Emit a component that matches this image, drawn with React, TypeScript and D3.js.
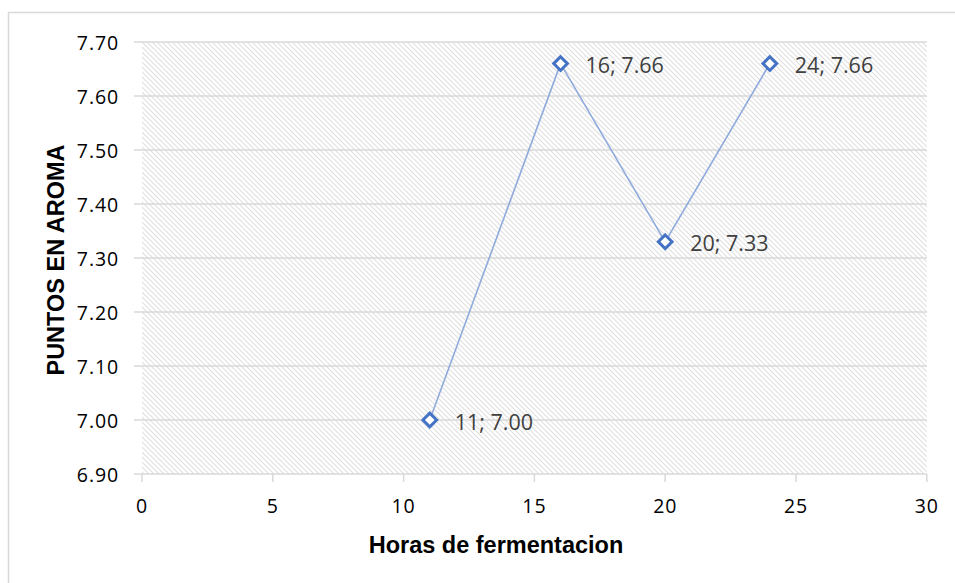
import React from "react";
import * as d3 from "d3";

const hours = [11, 16, 20, 24];
const aroma = [7.0, 7.66, 7.33, 7.66];
const xTicks = [0, 5, 10, 15, 20, 25, 30];
const yTicks = [6.9, 7.0, 7.1, 7.2, 7.3, 7.4, 7.5, 7.6, 7.7];

const W = 955;
const H = 583;
const plot = { left: 142, right: 926.8, top: 42, bottom: 474 };

export default function App() {
  const x = d3.scaleLinear().domain([0, 30]).range([plot.left, plot.right]);
  const y = d3.scaleLinear().domain([6.9, 7.7]).range([plot.bottom, plot.top]);
  const line = d3
    .line<number>()
    .x((_, i) => x(hours[i]))
    .y((d) => y(d));
  const tickFont = "'Open Sans', sans-serif";
  const titleFont = "'Liberation Sans', Arial, sans-serif";
  const diamond = d3.symbol().type(d3.symbolDiamond2).size(120)() as string;

  return (
    <svg
      width={W}
      height={H}
      style={{ position: "absolute", left: 0, top: 0, background: "#fff" }}
    >
      <defs>
        <pattern id="hatch" width={5} height={5} patternUnits="userSpaceOnUse">
          <rect width={5} height={5} fill="#fff" />
          <path
            d="M-1,-1 L6,6 M-1,4 L1,6 M4,-1 L6,1"
            stroke="#e0e0e0"
            strokeWidth={1.1}
          />
        </pattern>
      </defs>
      <rect x={8.5} y={12.5} width={960} height={580} fill="#fff" stroke="#d9d9d9" strokeWidth={1.5} />
      <rect
        x={plot.left}
        y={plot.top}
        width={plot.right - plot.left}
        height={plot.bottom - plot.top}
        fill="url(#hatch)"
      />
      {yTicks.map((t) => (
        <g key={t}>
          <line
            x1={plot.left - 8}
            x2={plot.right}
            y1={y(t)}
            y2={y(t)}
            stroke="#d9d9d9"
            strokeWidth={1.5}
          />
          <text
            x={119}
            y={y(t)}
            textAnchor="end"
            dominantBaseline="central"
            fontFamily={tickFont}
            fontSize={19.5}
            letterSpacing={0.9}
            fill="#000"
          >
            {t.toFixed(2)}
          </text>
        </g>
      ))}
      {xTicks.map((t) => (
        <g key={t}>
          <line
            x1={x(t)}
            x2={x(t)}
            y1={plot.bottom}
            y2={plot.bottom + 8}
            stroke="#d9d9d9"
            strokeWidth={1.5}
          />
          <text
            x={x(t)}
            y={505}
            textAnchor="middle"
            dominantBaseline="central"
            fontFamily={tickFont}
            fontSize={19.5}
            letterSpacing={0.9}
            fill="#000"
          >
            {t}
          </text>
        </g>
      ))}
      <path d={line(aroma) as string} fill="none" stroke="#8faadc" strokeWidth={1.6} />
      {aroma.map((v, i) => (
        <g key={i}>
          <path
            d={diamond}
            transform={`translate(${x(hours[i])},${y(v)})`}
            fill="#fff"
            stroke="#4472c4"
            strokeWidth={3}
          />
          <text
            x={x(hours[i]) + 25}
            y={y(v) + 1}
            dominantBaseline="central"
            fontFamily={tickFont}
            fontSize={21.5}
            fill="#404040"
          >
            {`${hours[i]}; ${v.toFixed(2)}`}
          </text>
        </g>
      ))}
      <text
        x={496}
        y={545}
        textAnchor="middle"
        dominantBaseline="central"
        fontFamily={titleFont}
        fontWeight="bold"
        fontSize={23.5}
        fill="#000"
      >
        Horas de fermentacion
      </text>
      <text
        transform={`translate(56,${260}) rotate(-90)`}
        textAnchor="middle"
        dominantBaseline="central"
        fontFamily={titleFont}
        fontWeight="bold"
        fontSize={23.5}
        fill="#000"
      >
        PUNTOS EN AROMA
      </text>
    </svg>
  );
}
